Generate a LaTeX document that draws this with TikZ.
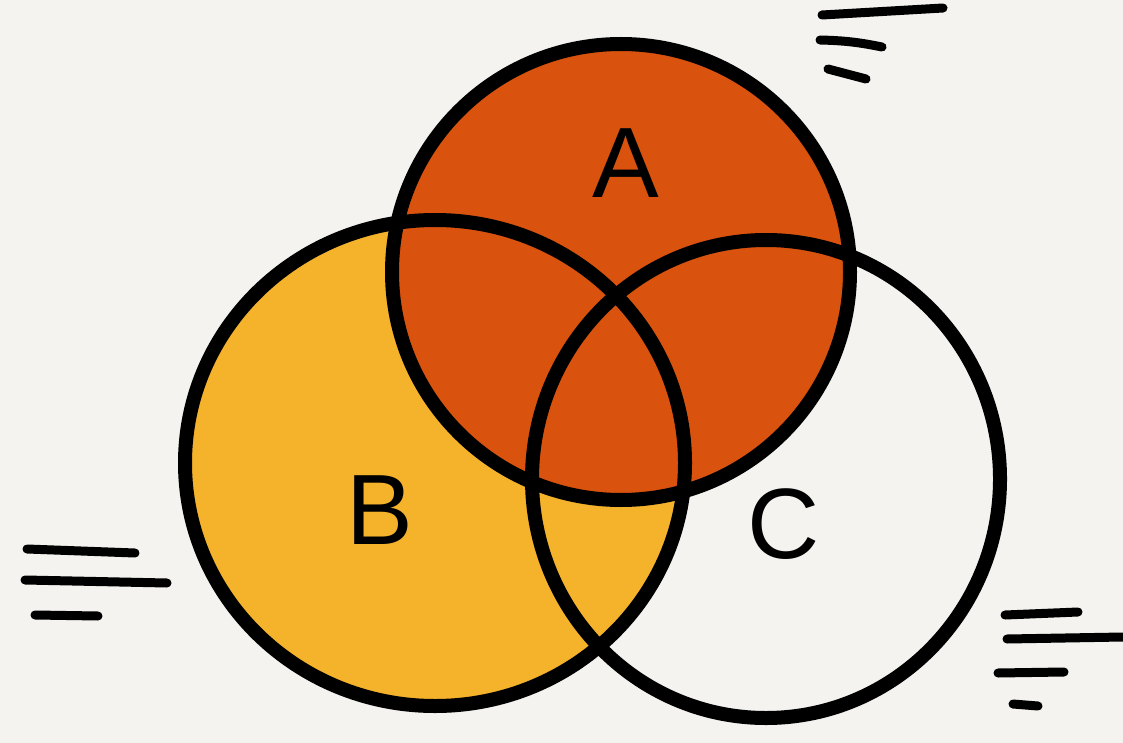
\documentclass[tikz,border=0pt]{standalone}
\usepackage{fontspec}
\setmainfont{Liberation Sans}
\definecolor{bg}{HTML}{F4F3EF}
\definecolor{aorange}{HTML}{D9530E}
\definecolor{byellow}{HTML}{F5B22B}
\begin{document}
\begin{tikzpicture}[x=1pt,y=-1pt,
  ring/.style={draw=black,line width=14pt},
  hash/.style={draw=black,line width=9pt,line cap=round},
  letter/.style={font=\fontsize{100}{100}\selectfont,text=black,inner sep=0pt}]
\fill[bg] (0,0) rectangle (1123,743);
\useasboundingbox (0,0) rectangle (1123,743);
% fills
\fill[byellow] (435,463) ellipse [x radius=250,y radius=243];
\fill[aorange] (621,272) ellipse [x radius=229,y radius=228];
% outlines
\draw[ring] (435,463) ellipse [x radius=250,y radius=243];
\draw[ring] (621,272) ellipse [x radius=229,y radius=228];
\draw[ring] (766,479) ellipse [x radius=234,y radius=239];
% labels
\node[letter] (la) at (626,163) {A};
\node[letter] (lb) at (380,510) {B};
\node[letter] (lc) at (784,524) {C};
% hash marks
\draw[hash] (822,15) -- (943,8);
\draw[hash] (820,40) to[bend left=5] (882,47);
\draw[hash] (828,69) -- (866,79);
\draw[hash] (27,549) -- (135,553);
\draw[hash] (25,580) -- (167,583);
\draw[hash] (35,615) -- (98,616);
\draw[hash] (1005,615) -- (1078,612);
\draw[hash] (1007,639) -- (1123,637);
\draw[hash] (998,673) -- (1064,672);
\draw[hash] (1013,704) -- (1038,706);
\end{tikzpicture}
\end{document}
